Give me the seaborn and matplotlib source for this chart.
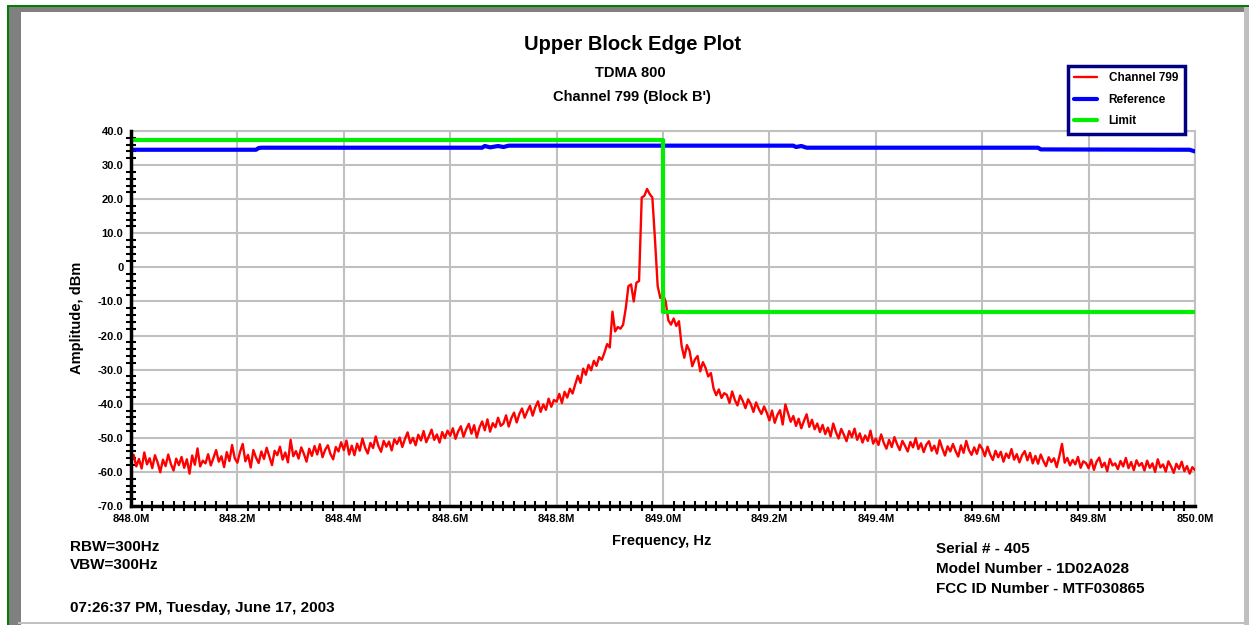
import numpy as np
import matplotlib
matplotlib.use("Agg")
import matplotlib.pyplot as plt
import seaborn as sns
from matplotlib.patches import Rectangle
from matplotlib.ticker import MultipleLocator, FuncFormatter

# measured trace, one point every 5 kHz from 848.000 to 850.000 MHz (dBm)
channel_799 = [
    -57.5, -55.0, -58.4, -56.2, -59.0, -54.3, -57.8, -56.0, -58.9, -55.1, -57.2, -60.1, -56.4, -58.3, -54.9, -57.7, -59.6, -56.1, -58.0, -55.6,
    -58.8, -56.3, -60.5, -55.2, -57.9, -53.1, -58.4, -56.7, -57.5, -54.8, -58.1, -55.9, -53.6, -57.0, -55.4, -58.6, -54.2, -56.8, -52.1, -56.0,
    -57.3, -54.1, -51.8, -56.9, -55.0, -58.7, -53.6, -55.8, -57.4, -54.0, -56.2, -52.9, -55.5, -58.0, -53.8, -55.1, -52.6, -56.4, -54.3, -57.2,
    -50.6, -55.4, -53.9, -56.1, -52.8, -54.7, -57.0, -53.2, -55.3, -52.4, -54.9, -51.9, -55.7, -53.5, -52.2, -54.8, -56.3, -52.7, -54.0, -51.3,
    -53.6, -50.8, -54.9, -52.3, -55.1, -51.7, -53.8, -50.2, -52.9, -54.6, -51.5, -53.0, -49.6, -52.4, -54.1, -50.9, -52.6, -51.1, -53.7, -50.4,
    -51.8, -49.9, -52.7, -50.3, -48.4, -51.6, -50.0, -52.2, -49.1, -50.8, -48.0, -51.3, -49.5, -47.6, -50.6, -49.0, -51.4, -48.3, -50.1, -47.9,
    -49.4, -47.2, -50.3, -48.1, -46.6, -49.7, -47.5, -45.9, -48.8, -46.3, -49.9, -47.0, -45.2, -47.8, -44.6, -48.2, -45.7, -46.9, -44.1, -46.5,
    -45.8, -43.4, -46.7, -44.2, -42.6, -45.5, -43.0, -41.4, -44.1, -42.2, -40.6, -43.5, -41.0, -39.3, -42.4, -40.2, -41.8, -38.5, -40.9, -38.9,
    -39.4, -37.1, -39.8, -36.5, -38.2, -35.6, -37.0, -34.3, -31.8, -33.9, -29.7, -31.5, -28.6, -30.2, -27.4, -28.9, -26.3, -27.1, -25.0, -22.5,
    -23.5, -13.0, -18.8, -17.5, -18.0, -16.8, -12.0, -5.5, -5.0, -10.0, -4.5, -4.0, 20.5, 21.0, 23.0, 21.5, 20.5, 8.0, -5.5, -9.0,
    -8.0, -10.0, -15.5, -16.8, -15.0, -17.2, -15.8, -23.0, -26.5, -22.8, -24.5, -29.0, -27.0, -26.0, -30.5, -27.8, -29.5, -32.0, -31.0, -35.5,
    -37.5, -35.8, -38.3, -36.9, -37.4, -39.8, -36.4, -38.9, -40.5, -37.6, -39.2, -41.3, -38.7, -40.1, -42.4, -39.6, -41.5, -43.0, -40.8, -42.6,
    -44.9, -42.0, -45.6, -43.3, -41.9, -46.1, -40.2, -42.7, -45.3, -43.6, -46.5, -44.4, -47.2, -45.0, -43.1, -46.8, -44.7, -47.5, -45.8, -48.3,
    -46.2, -48.9, -47.0, -49.6, -45.8, -48.3, -50.2, -47.4, -49.1, -51.0, -48.0, -49.8, -47.3, -50.6, -48.7, -51.4, -49.3, -50.9, -47.9, -51.7,
    -50.2, -52.1, -49.0, -51.5, -53.2, -50.6, -52.7, -49.8, -51.9, -53.6, -50.9, -52.4, -54.0, -51.2, -52.8, -50.1, -53.3, -51.6, -54.2, -52.0,
    -51.0, -53.8, -52.3, -54.6, -50.7, -53.1, -55.2, -52.5, -54.0, -51.8, -53.9, -55.5, -52.2, -54.4, -50.9, -53.6, -55.0, -52.8, -54.7, -52.0,
    -53.2, -55.4, -52.6, -54.9, -56.5, -53.8, -55.7, -54.1, -57.0, -54.6, -55.9, -53.3, -56.4, -54.8, -57.2, -55.1, -53.9, -56.6, -54.4, -57.5,
    -55.3, -57.6, -54.9, -56.8, -58.3, -55.7, -57.1, -56.0, -58.6, -55.4, -51.8, -57.3, -55.9, -58.1, -56.5, -57.8, -55.6, -58.8, -56.9, -57.4,
    -58.9, -56.4, -59.4, -57.0, -55.8, -58.6, -57.3, -59.8, -56.2, -58.1, -57.5, -59.2, -56.8, -58.4, -55.9, -58.9, -57.1, -59.5, -56.6, -58.2,
    -57.4, -59.6, -56.7, -58.8, -57.5, -60.0, -56.3, -58.7, -57.8, -59.9, -56.9, -58.4, -60.3, -57.6, -59.1, -57.0, -59.8, -58.3, -60.5, -58.6,
    -59.5,
]
channel_freq = np.linspace(848.0, 850.0, len(channel_799))

ref_freq = [848.0, 848.235, 848.24, 848.245, 848.66, 848.665, 848.675, 848.69, 848.70, 848.71,
            849.245, 849.25, 849.26, 849.27, 849.705, 849.71, 849.99, 850.0]
ref_vals = [34.5, 34.5, 35.0, 35.1, 35.1, 35.6, 35.2, 35.6, 35.3, 35.7,
            35.7, 35.3, 35.6, 35.1, 35.1, 34.6, 34.5, 34.0]

limit_freq = [848.0, 849.0, 849.0, 850.0]
limit_vals = [37.5, 37.5, -13.0, -13.0]

W, H = 1249, 625
sns.set_style("white")
plt.rcParams['font.family'] = ['Liberation Sans', 'DejaVu Sans']
plt.rcParams['font.weight'] = 'bold'
plt.rcParams['text.color'] = 'black'
plt.rcParams['axes.labelcolor'] = 'black'
plt.rcParams['xtick.color'] = 'black'
plt.rcParams['ytick.color'] = 'black'

fig = plt.figure(figsize=(W / 100, H / 100), dpi=100)
ax = fig.add_axes([131 / W, 1 - 506 / H, 1064 / W, 375 / H])

sns.lineplot(x=channel_freq, y=channel_799, ax=ax, color='#ff0000', linewidth=1.7,
             label='Channel 799', sort=False, estimator=None, zorder=3)
sns.lineplot(x=ref_freq, y=ref_vals, ax=ax, color='#0000ff', linewidth=3,
             label='Reference', sort=False, estimator=None, zorder=4)
sns.lineplot(x=limit_freq, y=limit_vals, ax=ax, color='#00ee00', linewidth=3,
             label='Limit', sort=False, estimator=None, zorder=5)

ax.set_xlim(848.0, 850.0)
ax.set_ylim(-70, 40)
ax.xaxis.set_major_locator(MultipleLocator(0.2))
ax.xaxis.set_minor_locator(MultipleLocator(0.02))
ax.yaxis.set_major_locator(MultipleLocator(10))
ax.yaxis.set_minor_locator(MultipleLocator(2))
ax.xaxis.set_major_formatter(FuncFormatter(lambda v, p: f"{v:.1f}M"))
ax.yaxis.set_major_formatter(FuncFormatter(lambda v, p: "0" if abs(v) < 1e-9 else f"{v:.1f}"))
ax.grid(True, which='major', color='#c0c0c0', linewidth=1.5, zorder=0)
ax.tick_params(which='major', direction='inout', length=9, width=1.8, color='black',
               labelsize=8, pad=1, labelcolor='black')
ax.tick_params(which='minor', direction='inout', length=7, width=1.5, color='black',
               bottom=True, left=True)
for lab in ax.get_xticklabels() + ax.get_yticklabels():
    lab.set_fontweight('bold')
for side in ['left', 'bottom']:
    ax.spines[side].set_color('black')
    ax.spines[side].set_linewidth(2.5)
    ax.spines[side].set_zorder(6)
for side in ['top', 'right']:
    ax.spines[side].set_color('#c0c0c0')
    ax.spines[side].set_linewidth(1.5)

ax.set_xlabel('Frequency, Hz', fontsize=10.5, fontweight='bold')
ax.xaxis.set_label_coords((662 - 131) / 1064, -(541 - 506) / 375)
ax.xaxis.label.set_va('center')
ax.set_ylabel('Amplitude, dBm', fontsize=10.5, fontweight='bold')
ax.yaxis.set_label_coords(-(131 - 77) / 1064, (506 - 318) / 375)
ax.yaxis.label.set_va('center')

leg = ax.legend(loc='upper left', bbox_to_anchor=(1068 / W, 1 - 66 / H),
                bbox_transform=fig.transFigure, fontsize=8.5, frameon=True,
                fancybox=False, framealpha=1, edgecolor='#000080',
                handlelength=1.9, handletextpad=1.0, labelspacing=0.8,
                borderpad=0.55, borderaxespad=0)
leg.get_frame().set_linewidth(2.5)
for t in leg.get_texts():
    t.set_fontweight('bold')
    t.set_color('black')

# titles
fig.text(632 / W, 1 - 44 / H, 'Upper Block Edge Plot', ha='center', va='center',
         fontsize=14.5, fontweight='bold')
fig.text(630 / W, 1 - 73 / H, 'TDMA 800', ha='center', va='center', fontsize=10.5,
         fontweight='bold')
fig.text(632 / W, 1 - 97 / H, "Channel 799 (Block B')", ha='center', va='center',
         fontsize=10.5, fontweight='bold')

# footer notes
for txt, y in [('RBW=300Hz', 547), ('VBW=300Hz', 565), ('07:26:37 PM, Tuesday, June 17, 2003', 608)]:
    fig.text(70 / W, 1 - y / H, txt, ha='left', va='center', fontsize=11, fontweight='bold')
for txt, y in [('Serial # - 405', 549), ('Model Number - 1D02A028', 569),
               ('FCC ID Number - MTF030865', 589)]:
    fig.text(936 / W, 1 - y / H, txt, ha='left', va='center', fontsize=11, fontweight='bold')


# window frame
def frame_rect(x0, y0, x1, y1, color):
    fig.add_artist(Rectangle((x0 / W, 1 - y1 / H), (x1 - x0) / W, (y1 - y0) / H,
                             transform=fig.transFigure, facecolor=color,
                             edgecolor='none', zorder=10))


frame_rect(9, 7, 21, 625, '#808080')
frame_rect(9, 7, 1244, 12, '#808080')
frame_rect(1244, 7, 1249, 625, '#c0c0c0')
frame_rect(18, 622, 1244, 624, '#c0c0c0')
frame_rect(7, 5, 1249, 7, '#007f00')
frame_rect(7, 5, 9, 625, '#007f00')

fig.savefig('out.png', dpi=100)
